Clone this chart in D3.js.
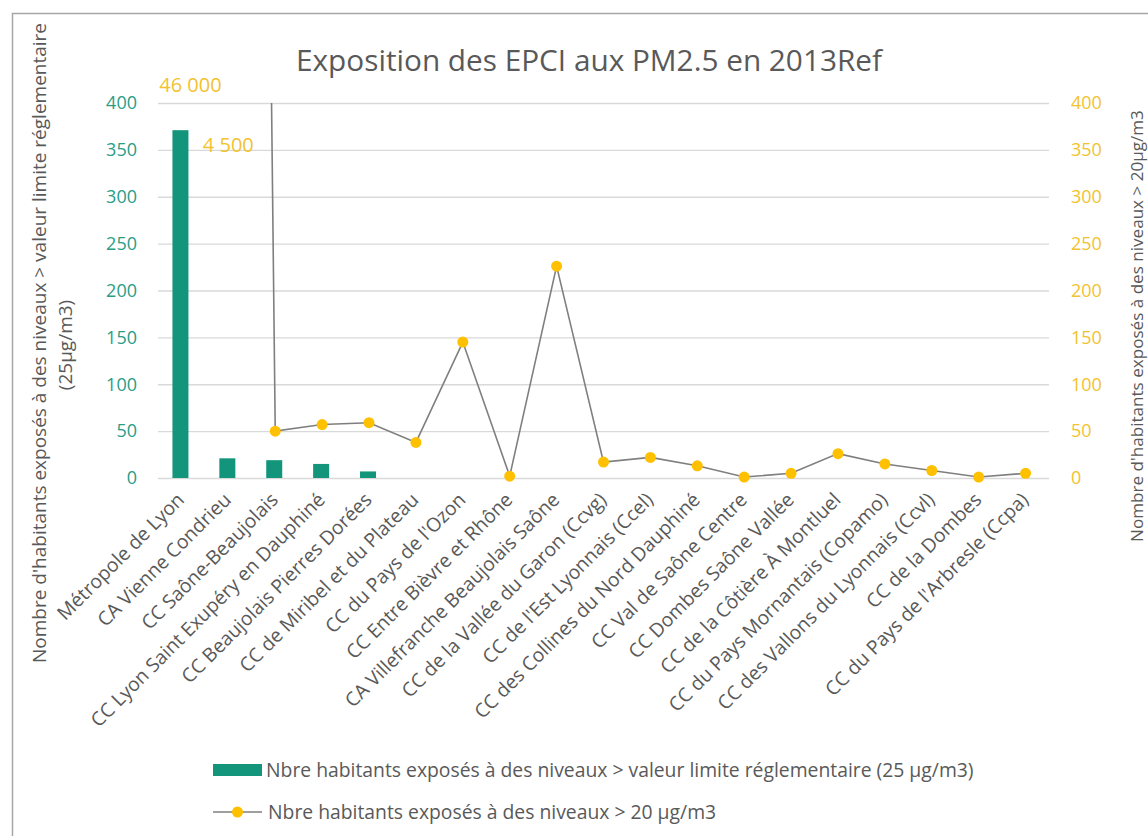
<!DOCTYPE html>
<html><head><meta charset="utf-8">
<script src="https://cdn.jsdelivr.net/npm/d3@7"></script>
<style>
html,body{margin:0;padding:0;background:#fff;}
svg{display:block;font-family:"Open Sans",sans-serif;}
</style></head>
<body>
<svg id="chart" width="1148" height="836"></svg>
<script>
const categories = [
  "Métropole de Lyon", "CA Vienne Condrieu", "CC Saône-Beaujolais",
  "CC Lyon Saint Exupéry en Dauphiné", "CC Beaujolais Pierres Dorées",
  "CC de Miribel et du Plateau", "CC du Pays de l'Ozon", "CC Entre Bièvre et Rhône",
  "CA Villefranche Beaujolais Saône", "CC de la Vallée du Garon (Ccvg)",
  "CC de l'Est Lyonnais (Ccel)", "CC des Collines du Nord Dauphiné",
  "CC Val de Saône Centre", "CC Dombes Saône Vallée", "CC de la Côtière À Montluel",
  "CC du Pays Mornantais (Copamo)", "CC des Vallons du Lyonnais (Ccvl)",
  "CC de la Dombes", "CC du Pays de l'Arbresle (Ccpa)"
];
const barValues  = [371, 21, 19, 15, 7, 0, 0, 0, 0, 0, 0, 0, 0, 0, 0, 0, 0, 0, 0];
const lineValues = [46000, 4500, 50, 57, 59, 38, 145, 2, 226, 17, 22, 13, 1, 5, 26, 15, 8, 1, 5];
const leftTicks  = [0, 50, 100, 150, 200, 250, 300, 350, 400];
const rightTicks = [0, 50, 100, 150, 200, 250, 300, 350, 400];
const titleText = "Exposition des EPCI aux PM2.5 en 2013Ref";
const leftTitle1 = "Nombre d'habitants exposés à des niveaux > valeur limite réglementaire";
const leftTitle2 = "(25µg/m3)";
const rightTitle = "Nombre d'habitants exposés à des niveaux > 20µg/m3";
const barLegend  = "Nbre habitants exposés à des niveaux > valeur limite réglementaire (25 µg/m3)";
const lineLegend = "Nbre habitants exposés à des niveaux > 20 µg/m3";

const C = {bar:"#12957a", line:"#7f7f7f", dot:"#ffc000", leftTick:"#2a9d86", rightTick:"#f2c230",
           label:"#f2c230", text:"#595959", grid:"#d9d9d9", border:"#a6a6a6"};

const svg = d3.select("#chart");
const M = {left:158, right:1049, top:103, bottom:478};

const fr = d3.formatLocale({decimal:",", thousands:"\u00a0", grouping:[3], currency:["","€"]});
const fmt = fr.format(",d");

function fit(sel, target){
  const n = sel.node(); const fs = parseFloat(sel.attr("font-size"));
  const w = n.getComputedTextLength();
  sel.attr("font-size", (fs*target/w).toFixed(2));
}

// border
svg.append("rect").attr("x",12.5).attr("y",13.5).attr("width",1148).attr("height",836)
  .attr("fill","none").attr("stroke",C.border).attr("stroke-width",1.5);

const x = d3.scaleBand().domain(categories).range([M.left, M.right]).paddingInner(0).paddingOuter(0);
const yL = d3.scaleLinear().domain([0,400]).range([M.bottom, M.top]);
const yR = d3.scaleLinear().domain([0,400]).range([M.bottom, M.top]);

// gridlines
svg.append("g").attr("transform",`translate(${M.left},0)`)
  .call(d3.axisLeft(yL).tickValues(leftTicks).tickSize(-(M.right-M.left)).tickFormat(""))
  .call(g=>g.select(".domain").remove())
  .call(g=>g.selectAll("line").attr("stroke",C.grid).attr("stroke-width",1.3));

// left axis labels
svg.append("g").attr("transform",`translate(${M.left},0)`)
  .call(d3.axisLeft(yL).tickValues(leftTicks).tickSize(0).tickPadding(21))
  .call(g=>g.select(".domain").remove())
  .call(g=>g.selectAll("text").attr("fill",C.leftTick).attr("font-size",18).attr("font-family","Open Sans"));

// right axis labels
svg.append("g").attr("transform",`translate(${M.right},0)`)
  .call(d3.axisRight(yR).tickValues(rightTicks).tickSize(0).tickPadding(22))
  .call(g=>g.select(".domain").remove())
  .call(g=>g.selectAll("text").attr("fill",C.rightTick).attr("font-size",18).attr("font-family","Open Sans"));

// bars
const bw = 16;
svg.append("g").selectAll("rect").data(categories).join("rect")
  .attr("x", d=>x(d)+x.bandwidth()/2-bw/2+ -1)
  .attr("width", bw)
  .attr("y", (d,i)=>yL(barValues[i]))
  .attr("height", (d,i)=>yL(0)-yL(barValues[i]))
  .attr("fill", C.bar);

// line (clipped at 400)
svg.append("clipPath").attr("id","clip").append("rect")
  .attr("x", M.left-20).attr("y", M.top).attr("width", M.right-M.left+40).attr("height", M.bottom-M.top+20);
const pts = categories.map((c,i)=>[x(c)+x.bandwidth()/2, yR(lineValues[i])]);
const lg = svg.append("g").attr("clip-path","url(#clip)");
lg.append("path").attr("d", d3.line()(pts)).attr("fill","none").attr("stroke",C.line).attr("stroke-width",1.6);
lg.selectAll("circle").data(pts).join("circle")
  .attr("cx",d=>d[0]).attr("cy",d=>d[1]).attr("r",5.5).attr("fill",C.dot);

// labels for off-scale values
const offIdx = lineValues.map((v,i)=>i).filter(i=>lineValues[i]>400);
svg.append("g").selectAll("text").data(offIdx).join("text")
  .attr("x", (i,k)=> x(categories[i]) + x.bandwidth()/2 + (k===0 ? 9 : 0))
  .attr("y", (i,k)=> k===0 ? M.top-11 : yR(350)+2)
  .attr("text-anchor","middle").attr("font-size",20).attr("fill",C.label)
  .text(i=>fmt(lineValues[i]));

// category labels
const cl = svg.append("g").selectAll("text").data(categories).join("text")
  .attr("transform", d=>`translate(${x(d)+x.bandwidth()/2+4},${M.bottom+23}) rotate(-45)`)
  .attr("text-anchor","end").attr("font-size",17).attr("fill",C.text)
  .text(d=>d);
{
  const first = cl.filter((d,i)=>i===0);
  const w = first.node().getComputedTextLength();
  const fs = 17*170/w;
  cl.attr("font-size", fs.toFixed(2));
}

// title
const t = svg.append("text").attr("x",589).attr("y",71).attr("text-anchor","middle")
  .attr("font-size",26).attr("fill",C.text).text(titleText);
fit(t, 586);

// left axis title
const lt1 = svg.append("text").attr("transform","translate(46,343) rotate(-90)").attr("text-anchor","middle")
  .attr("font-size",16).attr("fill",C.text).text(leftTitle1);
fit(lt1, 640);
const lt2 = svg.append("text").attr("transform","translate(72,345) rotate(-90)").attr("text-anchor","middle")
  .attr("font-size",lt1.attr("font-size")).attr("fill",C.text).text(leftTitle2);

// right axis title
const rt = svg.append("text").attr("transform","translate(1143,326) rotate(-90)").attr("text-anchor","middle")
  .attr("font-size",15).attr("fill",C.text).text(rightTitle);
fit(rt, 432);

// legend
const leg = svg.append("g");
leg.append("rect").attr("x",213).attr("y",764).attr("width",49).attr("height",12).attr("fill",C.bar);
const lt = leg.append("text").attr("x",266).attr("y",770).attr("dy","0.35em").attr("font-size",15)
  .attr("fill",C.text).text(barLegend);
fit(lt, 708);
leg.append("line").attr("x1",213).attr("x2",262).attr("y1",812).attr("y2",812).attr("stroke",C.line).attr("stroke-width",1.6);
leg.append("circle").attr("cx",237.5).attr("cy",812).attr("r",5.5).attr("fill",C.dot);
leg.append("text").attr("x",268).attr("y",812).attr("dy","0.35em").attr("font-size",lt.attr("font-size"))
  .attr("fill",C.text).text(lineLegend);
</script>
</body></html>
